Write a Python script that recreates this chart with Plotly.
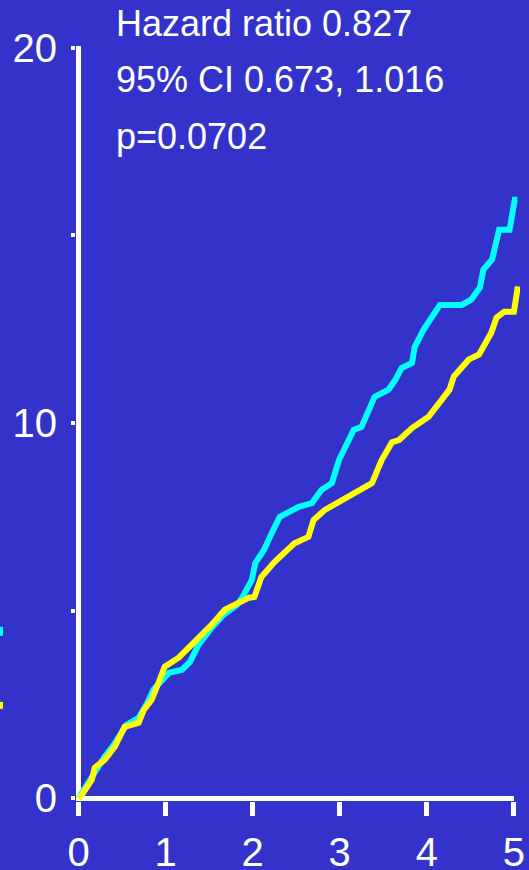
import plotly.graph_objects as go

# Data (years vs cumulative %)
cyan_t = [0, 0.04, 0.07, 0.18, 0.30, 0.42, 0.55, 0.69, 0.78, 0.86, 0.96, 1.04, 1.19, 1.28, 1.38,
          1.53, 1.67, 1.82, 1.88, 1.99, 2.03, 2.13, 2.22, 2.31, 2.53, 2.68, 2.79, 2.91, 2.99, 3.10,
          3.16, 3.25, 3.33, 3.40, 3.56, 3.64, 3.71, 3.83, 3.86, 3.96, 4.06, 4.15, 4.40, 4.51, 4.61,
          4.65, 4.75, 4.80, 4.83, 4.95, 4.98, 5.01, 5.04]
cyan_v = [0, 0.15, 0.31, 0.71, 1.11, 1.48, 1.96, 2.15, 2.50, 2.90, 3.16, 3.35, 3.43, 3.64, 4.10,
          4.55, 4.90, 5.16, 5.35, 5.82, 6.27, 6.62, 7.07, 7.50, 7.77, 7.87, 8.22, 8.40, 9.01, 9.55,
          9.82, 9.90, 10.36, 10.70, 10.89, 11.16, 11.47, 11.60, 12.02, 12.48, 12.83, 13.15, 13.15, 13.29, 13.61,
          14.09, 14.36, 14.89, 15.15, 15.15, 15.49, 15.95, 15.95]

yellow_t = [0, 0.04, 0.153, 0.187, 0.30, 0.417, 0.53, 0.69, 0.75, 0.84, 0.92, 0.99, 1.15, 1.24, 1.38,
            1.53, 1.68, 1.84, 1.96, 2.02, 2.10, 2.25, 2.48, 2.64, 2.70, 2.83, 3.02, 3.25, 3.37, 3.48,
            3.60, 3.68, 3.83, 4.02, 4.14, 4.26, 4.31, 4.48, 4.60, 4.65, 4.74, 4.80, 4.89, 5.00, 5.02, 5.045]
yellow_v = [0, 0.10, 0.50, 0.82, 1.03, 1.38, 1.91, 2.02, 2.36, 2.63, 3.09, 3.51, 3.75, 3.96, 4.23,
            4.63, 5.03, 5.22, 5.35, 5.37, 5.90, 6.30, 6.80, 6.97, 7.42, 7.69, 7.95, 8.22, 8.40, 9.01,
            9.49, 9.55, 9.87, 10.17, 10.54, 10.89, 11.24, 11.69, 11.83, 12.04, 12.41, 12.81, 12.97, 12.97, 13.29, 13.64]

x_ticks = [0, 1, 2, 3, 4, 5]
y_ticks = [0, 5, 10, 15, 20]
y_ticktext = ["0", "", "10", "", "20"]
stats_lines = ["Hazard ratio 0.827", "95% CI 0.673, 1.016", "p=0.0702"]

BG = "#3333CC"
FONT = "Liberation Sans, Arial, sans-serif"

fig = go.Figure()
fig.add_trace(go.Scatter(x=cyan_t, y=cyan_v, mode="lines",
                         line=dict(color="#00FFFF", width=6), showlegend=False))
fig.add_trace(go.Scatter(x=yellow_t, y=yellow_v, mode="lines",
                         line=dict(color="#FFFF00", width=6), showlegend=False))

# axis lines
fig.add_shape(type="line", x0=-0.03, x1=5.0, y0=0, y1=0, xref="x", yref="y",
              line=dict(color="white", width=5), layer="below")
fig.add_shape(type="line", x0=0, x1=0, y0=-0.067, y1=20.05, xref="x", yref="y",
              line=dict(color="white", width=5), layer="below")

# cropped legend keys at left edge
plot_w = 444.1
fig.add_shape(type="line", x0=-78 / plot_w, x1=-73 / plot_w, y0=4.455, y1=4.455,
              xref="paper", yref="y", line=dict(color="#00FFFF", width=9))
fig.add_shape(type="line", x0=-78 / plot_w, x1=-73 / plot_w, y0=2.48, y1=2.48,
              xref="paper", yref="y", line=dict(color="#FFFF00", width=7))

ann_y = [1.0275, 0.9528, 0.8782]
for txt, yy in zip(stats_lines, ann_y):
    fig.add_annotation(x=0.405, y=yy, xref="x", yref="paper", text=txt, showarrow=False,
                       xanchor="left", yanchor="middle",
                       font=dict(family=FONT, size=36, color="white"))

fig.update_layout(
    width=529, height=870,
    paper_bgcolor=BG, plot_bgcolor=BG,
    margin=dict(l=75.5, r=9.4, t=44.3, b=68.8, pad=0, autoexpand=False),
    font=dict(family=FONT, color="white"),
    xaxis=dict(range=[-0.0287, 5.07], tickvals=x_ticks, ticktext=[str(v) for v in x_ticks],
               showgrid=False, zeroline=False, showline=False, automargin=False,
               ticks="outside", ticklen=14, tickwidth=5, tickcolor="white",
               ticklabelstandoff=2,
               tickfont=dict(family=FONT, size=40, color="white")),
    yaxis=dict(range=[-0.067, 20.1], tickvals=y_ticks, ticktext=y_ticktext,
               showgrid=False, zeroline=False, showline=False, automargin=False,
               ticks="outside", ticklen=4, tickwidth=4, tickcolor="white",
               ticklabelstandoff=6,
               tickfont=dict(family=FONT, size=40, color="white")),
)

fig.write_html("out.html", config={"displayModeBar": False},
               post_script="document.body.style.margin='0';document.body.style.background='" + BG + "';")
